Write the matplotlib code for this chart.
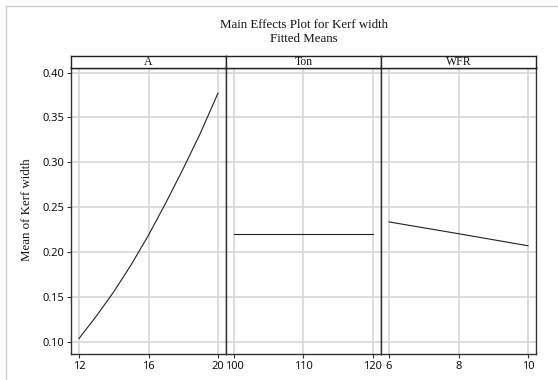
import numpy as np
import matplotlib
matplotlib.use("Agg")
import matplotlib.pyplot as plt
from matplotlib.lines import Line2D

# factor levels and fitted means
a_levels = [12, 13, 14, 15, 16, 17, 18, 19, 20]
a_means = [0.104, 0.129, 0.156, 0.186, 0.219, 0.255, 0.293, 0.333, 0.377]
ton_levels = [100, 120]
ton_means = [0.2205, 0.2205]
wfr_levels = [6, 8, 10]
wfr_means = [0.2337, 0.2206, 0.2072]

factors = ["A", "Ton", "WFR"]
xticks = [[12, 16, 20], [100, 110, 120], [6, 8, 10]]
yticks = [0.10, 0.15, 0.20, 0.25, 0.30, 0.35, 0.40]

serif = "Liberation Serif"
sans = "Noto Sans"

W, H = 558, 380
fig = plt.figure(figsize=(W / 100, H / 100), dpi=100)

left, right = 71 / W, 536 / W
top, bottom = 1 - 67.5 / H, 1 - 354 / H
pw = (right - left) / 3
strip_h = 12 / H

series = [(a_levels, a_means), (ton_levels, ton_means), (wfr_levels, wfr_means)]
for i, (xs, ys) in enumerate(series):
    ax = fig.add_axes([left + i * pw, bottom, pw, top - bottom])
    ax.plot(xs, ys, color="#222222", lw=0.8)
    lo, hi = xticks[i][0], xticks[i][-1]
    m = (hi - lo) * 0.058
    ax.set_xlim(lo - m, hi + m)
    ax.set_ylim(0.0867, 0.4056)
    ax.set_xticks(xticks[i])
    ax.set_yticks(yticks)
    ax.grid(True, color="#dadada", lw=1.3)
    ax.set_axisbelow(True)
    for s in ax.spines.values():
        s.set_color("#333333")
        s.set_linewidth(1.0)
    ax.tick_params(axis="x", length=3, width=0.8, color="#333333", labelsize=8, pad=2)
    for t in ax.get_xticklabels():
        t.set_fontfamily(sans)
        t.set_color("#111111")
    if i == 0:
        ax.set_yticklabels(["%.2f" % v for v in yticks])
        ax.tick_params(axis="y", length=3, width=0.8, color="#333333", labelsize=8, pad=2)
        for t in ax.get_yticklabels():
            t.set_fontfamily(sans)
            t.set_color("#111111")
    else:
        ax.tick_params(axis="y", length=0, labelleft=False)

    # strip header
    sax = fig.add_axes([left + i * pw, top, pw, strip_h])
    sax.set_xticks([])
    sax.set_yticks([])
    for s in sax.spines.values():
        s.set_color("#222222")
        s.set_linewidth(1.0)
    sax.text(0.5, 0.42, factors[i], ha="center", va="center", fontsize=8.5,
             family=serif, color="#111111", transform=sax.transAxes)

cx = (left + right) / 2
fig.text(cx, 1 - 25.5 / H, "Main Effects Plot for Kerf width", ha="center", va="center",
         fontsize=9.3, family=serif, color="#111111")
fig.text(cx, 1 - 39.5 / H, "Fitted Means", ha="center", va="center",
         fontsize=9.3, family=serif, color="#111111")
fig.text(27 / W, 1 - 210 / H, "Mean of Kerf width", rotation=90, ha="center", va="center",
         fontsize=9.3, family=serif, color="#111111")

# outer frame edges visible at left and top
fig.add_artist(Line2D([5.5 / W, 5.5 / W], [0, 1 - 6 / H], transform=fig.transFigure,
                      color="#cccccc", lw=1))
fig.add_artist(Line2D([5.5 / W, 1], [1 - 6 / H, 1 - 6 / H], transform=fig.transFigure,
                      color="#cccccc", lw=1))

fig.savefig("out.png", dpi=100)
